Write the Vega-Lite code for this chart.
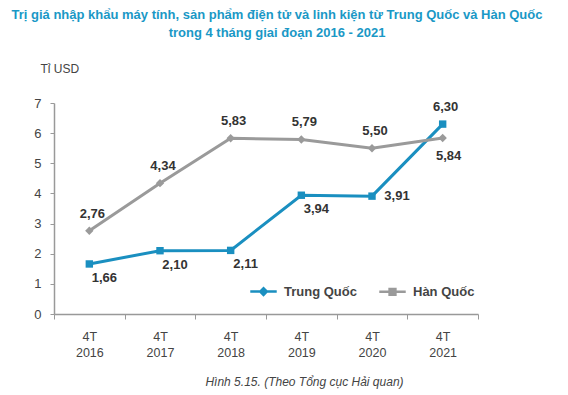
{
  "$schema": "https://vega.github.io/schema/vega-lite/v6.json",
  "width": 424,
  "height": 211,
  "autosize": {"type": "none"},
  "padding": {"left": 54, "top": 103, "right": 90, "bottom": 81},
  "background": "white",
  "config": {
    "font": "Liberation Sans",
    "view": {"stroke": null}
  },
  "title": {
    "text": ["Trị giá nhập khẩu máy tính, sản phẩm điện tử và linh kiện từ Trung Quốc và Hàn Quốc", "trong 4 tháng giai đoạn 2016 - 2021"],
    "fontSize": 13,
    "fontWeight": "bold",
    "color": "#1a98c6",
    "anchor": "middle",
    "dx": 11,
    "offset": 22,
    "lineHeight": 18
  },
  "data": {
    "values": [
      {"period": "4T 2016", "series": "Trung Quốc", "value": 1.66, "label": "1,66", "pos": "belowright"},
      {"period": "4T 2017", "series": "Trung Quốc", "value": 2.10, "label": "2,10", "pos": "belowright"},
      {"period": "4T 2018", "series": "Trung Quốc", "value": 2.11, "label": "2,11", "pos": "belowright"},
      {"period": "4T 2019", "series": "Trung Quốc", "value": 3.94, "label": "3,94", "pos": "belowright"},
      {"period": "4T 2020", "series": "Trung Quốc", "value": 3.91, "label": "3,91", "pos": "right"},
      {"period": "4T 2021", "series": "Trung Quốc", "value": 6.30, "label": "6,30", "pos": "above"},
      {"period": "4T 2016", "series": "Hàn Quốc", "value": 2.76, "label": "2,76", "pos": "above"},
      {"period": "4T 2017", "series": "Hàn Quốc", "value": 4.34, "label": "4,34", "pos": "above"},
      {"period": "4T 2018", "series": "Hàn Quốc", "value": 5.83, "label": "5,83", "pos": "above"},
      {"period": "4T 2019", "series": "Hàn Quốc", "value": 5.79, "label": "5,79", "pos": "above"},
      {"period": "4T 2020", "series": "Hàn Quốc", "value": 5.50, "label": "5,50", "pos": "above"},
      {"period": "4T 2021", "series": "Hàn Quốc", "value": 5.84, "label": "5,84", "pos": "below"}
    ]
  },
  "encoding": {
    "x": {
      "field": "period",
      "type": "nominal",
      "sort": null,
      "scale": {"type": "band", "paddingInner": 0, "paddingOuter": 0},
      "axis": {
        "labelAngle": 0,
        "labelExpr": "isString(datum.value) ? split(datum.value, ' ') : ''",
        "labelFontSize": 12.5,
        "labelColor": "#444444",
        "labelLineHeight": 16,
        "labelPadding": 11,
        "tickBand": "extent",
        "tickSize": 5,
        "tickColor": "#999999",
        "domainColor": "#999999",
        "domainWidth": 1.5,
        "title": "Hình 5.15. (Theo Tổng cục Hải quan)",
        "titleFontStyle": "italic",
        "titleFontWeight": "normal",
        "titleFontSize": 12,
        "titleColor": "#444444",
        "titleX": 250,
        "titleY": 67,
        "titleBaseline": "middle",
        "titleAnchor": null
      }
    },
    "y": {
      "field": "value",
      "type": "quantitative",
      "scale": {"domain": [0, 7]},
      "axis": {
        "values": [0, 1, 2, 3, 4, 5, 6, 7],
        "grid": false,
        "labelFontSize": 13,
        "labelColor": "#444444",
        "labelPadding": 9,
        "tickSize": 4,
        "tickColor": "#999999",
        "domainColor": "#999999",
        "domainWidth": 1.5,
        "title": "Tỉ USD",
        "titleAngle": 0,
        "titleFontWeight": "normal",
        "titleFontSize": 12,
        "titleColor": "#444444",
        "titleAlign": "left",
        "titleBaseline": "middle",
        "titleX": -14,
        "titleY": -35
      }
    }
  },
  "layer": [
    {
      "mark": {"type": "line", "strokeWidth": 3},
      "encoding": {
        "color": {
          "field": "series",
          "type": "nominal",
          "scale": {"domain": ["Trung Quốc", "Hàn Quốc"], "range": ["#1a8fc0", "#9a9a9a"]},
          "legend": {
            "title": null,
            "orient": "none",
            "direction": "horizontal",
            "legendX": 195,
            "legendY": 174,
            "symbolSize": 700,
            "symbolStrokeWidth": 2.5,
            "labelFontSize": 13,
            "labelFontWeight": "bold",
            "labelColor": "#444444",
            "labelOffset": 6,
            "columnPadding": 17,
            "encode": {
              "symbols": {
                "update": {
                  "shape": {"signal": "datum.value === 'Trung Quốc' ? 'M-1,0H1M-0.25,0L0,-0.25L0.25,0L0,0.25Z' : 'M-1,0H1M-0.22,-0.22H0.22V0.22H-0.22Z'"},
                  "fill": {"signal": "datum.value === 'Trung Quốc' ? '#1a8fc0' : '#9a9a9a'"},
                  "stroke": {"signal": "datum.value === 'Trung Quốc' ? '#1a8fc0' : '#9a9a9a'"}
                }
              }
            }
          }
        }
      }
    },
    {
      "transform": [{"filter": "datum.series === 'Trung Quốc'"}],
      "mark": {"type": "point", "filled": true, "opacity": 1, "shape": "square", "size": 55, "color": "#1a8fc0"}
    },
    {
      "transform": [{"filter": "datum.series === 'Hàn Quốc'"}],
      "mark": {"type": "point", "filled": true, "opacity": 1, "shape": "diamond", "size": 70, "color": "#9a9a9a"}
    },
    {
      "transform": [{"filter": "datum.pos === 'above'"}],
      "mark": {"type": "text", "dy": -17, "dx": 3, "fontSize": 13, "fontWeight": "bold", "color": "#333333"},
      "encoding": {"text": {"field": "label"}}
    },
    {
      "transform": [{"filter": "datum.pos === 'belowright'"}],
      "mark": {"type": "text", "dy": 14, "dx": 15, "fontSize": 13, "fontWeight": "bold", "color": "#333333"},
      "encoding": {"text": {"field": "label"}}
    },
    {
      "transform": [{"filter": "datum.pos === 'right'"}],
      "mark": {"type": "text", "dy": 0, "dx": 25, "fontSize": 13, "fontWeight": "bold", "color": "#333333"},
      "encoding": {"text": {"field": "label"}}
    },
    {
      "transform": [{"filter": "datum.pos === 'below'"}],
      "mark": {"type": "text", "dy": 18, "dx": 6, "fontSize": 13, "fontWeight": "bold", "color": "#333333"},
      "encoding": {"text": {"field": "label"}}
    }
  ]
}
